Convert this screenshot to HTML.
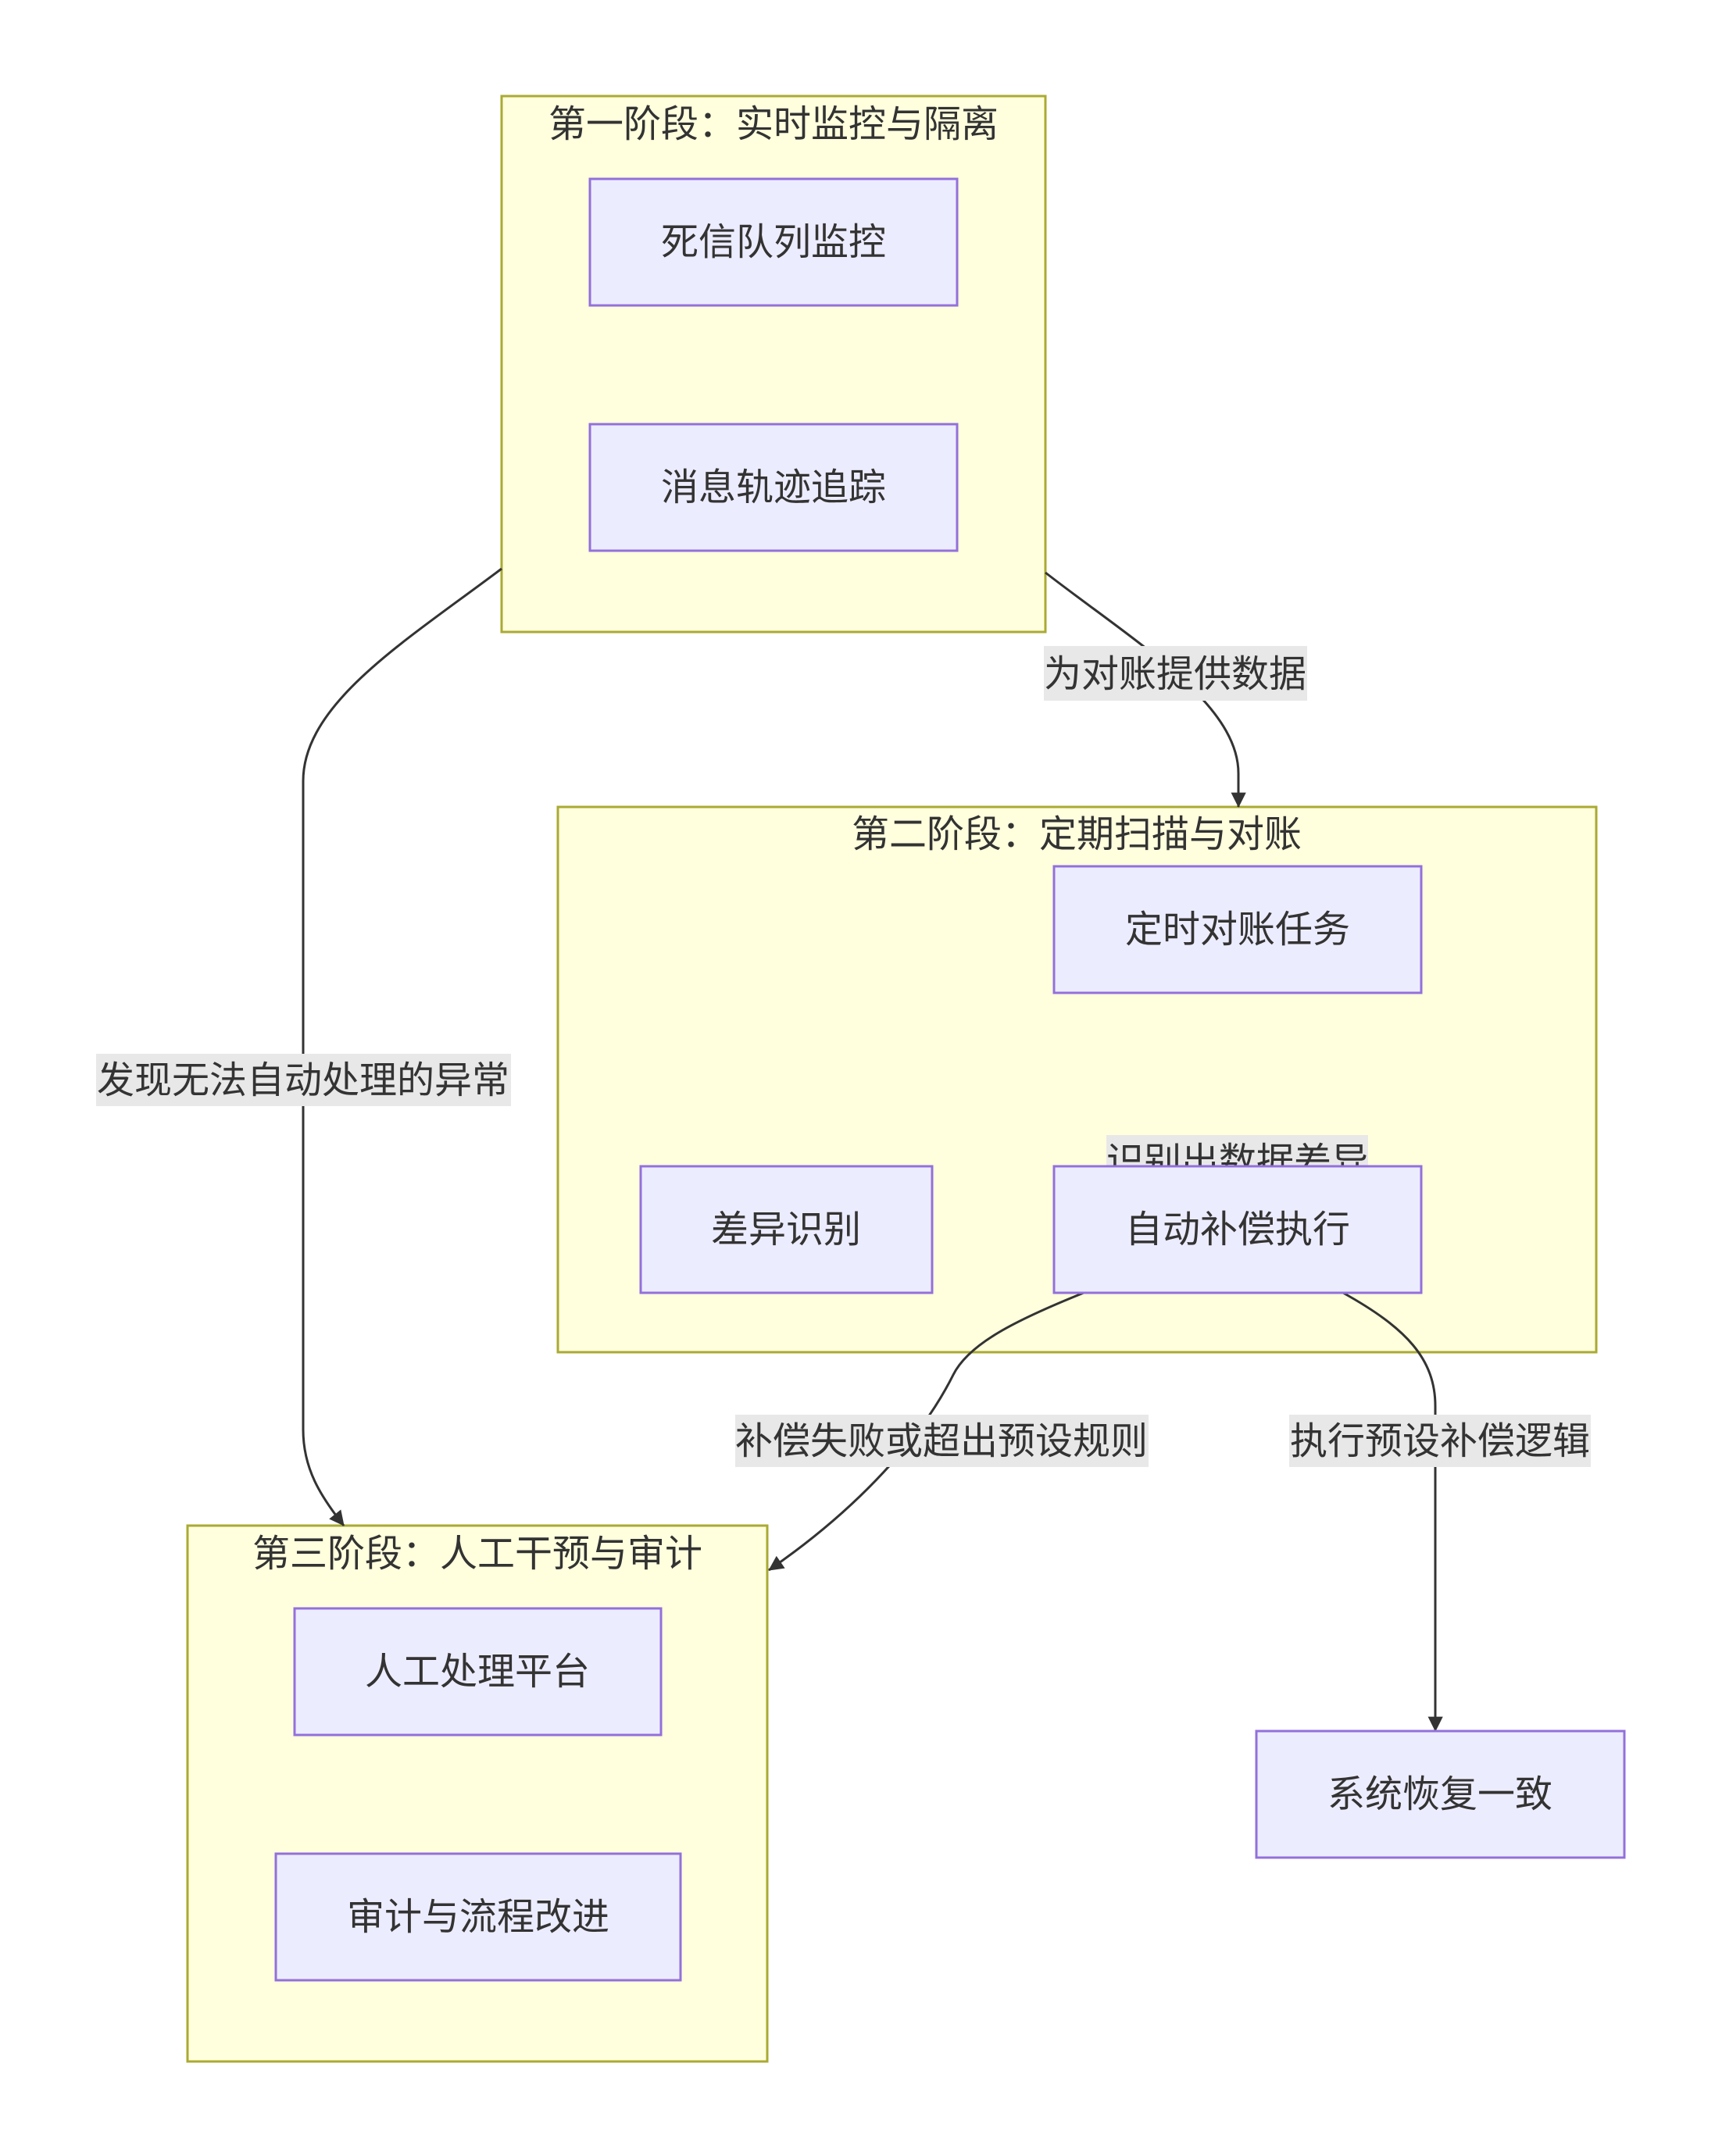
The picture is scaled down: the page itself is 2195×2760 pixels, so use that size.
<!DOCTYPE html>
<html><head><meta charset="utf-8"><style>
html,body{margin:0;padding:0;background:#fff;}
svg text{font-family:"Liberation Sans","Noto Sans CJK SC",sans-serif;fill:#333;}
</style></head><body>
<svg width="2195" height="2755" viewBox="0 0 2195 2755" xmlns="http://www.w3.org/2000/svg">
<defs><marker id="a" viewBox="0 0 10 10" refX="9" refY="5" markerWidth="8" markerHeight="8" markerUnits="userSpaceOnUse" orient="auto" style="overflow:visible"><path d="M0,0L10,5L0,10z" fill="#333" transform="scale(2.4) translate(-5.8,-3)"/></marker></defs>
<g fill="#ffffde" stroke="#aaaa33" stroke-width="3">
<rect x="642" y="123" width="696" height="686"/>
<rect x="714" y="1033" width="1329" height="698"/>
<rect x="240" y="1953" width="742" height="686"/>
</g>
<g font-size="48" text-anchor="middle">
<text x="990" y="175">第一阶段：实时监控与隔离</text>
<text x="1378" y="1084">第二阶段：定期扫描与对账</text>
<text x="611" y="2005">第三阶段：人工干预与审计</text>
</g>
<g fill="none" stroke="#333" stroke-width="3">
<path d="M642,728 C520,820 388,900 388,1000 L388,1830 C388,1880 410,1915 440,1953" marker-end="url(#a)"/>
<path d="M1338,733 C1450,820 1585,900 1585,990 L1585,1033" marker-end="url(#a)"/>
<path d="M1387,1655 C1300,1690 1240,1720 1220,1760 C1180,1840 1100,1930 984,2010" marker-end="url(#a)"/>
<path d="M1719,1655 C1800,1700 1837,1740 1837,1800 L1837,2216" marker-end="url(#a)"/>
</g>
<g fill="#e8e8e8">
<rect x="123" y="1349" width="531" height="67"/>
<rect x="1336" y="827" width="337" height="70"/>
<rect x="941" y="1811" width="529" height="67"/>
<rect x="1650" y="1811" width="386" height="67"/>
<rect x="1416" y="1453" width="335" height="60"/>
</g>
<g font-size="48" text-anchor="middle">
<text x="388" y="1399">发现无法自动处理的异常</text>
<text x="1504" y="879">为对账提供数据</text>
<text x="1205" y="1861">补偿失败或超出预设规则</text>
<text x="1843" y="1861">执行预设补偿逻辑</text>
<text x="1584" y="1503">识别出数据差异</text>
</g>
<g fill="#ececff" stroke="#9370db" stroke-width="3">
<rect x="755" y="229" width="470" height="162"/>
<rect x="755" y="543" width="470" height="162"/>
<rect x="1349" y="1109" width="470" height="162"/>
<rect x="820" y="1493" width="373" height="162"/>
<rect x="1349" y="1493" width="470" height="162"/>
<rect x="377" y="2059" width="469" height="162"/>
<rect x="353" y="2373" width="518" height="162"/>
<rect x="1608" y="2216" width="471" height="162"/>
</g>
<g font-size="48" text-anchor="middle">
<text x="990" y="326">死信队列监控</text>
<text x="990" y="640">消息轨迹追踪</text>
<text x="1584" y="1206">定时对账任务</text>
<text x="1006" y="1590">差异识别</text>
<text x="1584" y="1590">自动补偿执行</text>
<text x="611" y="2156">人工处理平台</text>
<text x="612" y="2470">审计与流程改进</text>
<text x="1843" y="2313">系统恢复一致</text>
</g>
</svg>
</body></html>
